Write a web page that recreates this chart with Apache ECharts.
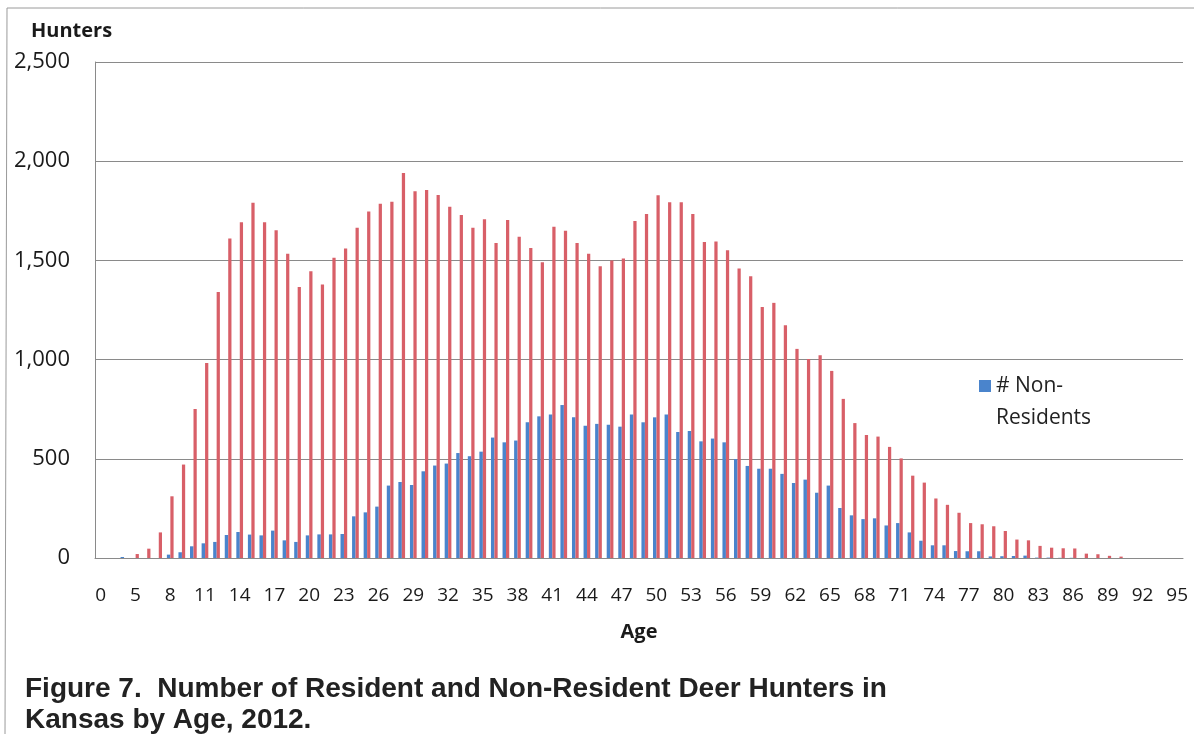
<!DOCTYPE html>
<html>
<head>
<meta charset="utf-8">
<script src="https://cdn.jsdelivr.net/npm/echarts@6/dist/echarts.min.js"></script>
<style>
  html, body { margin: 0; padding: 0; background: #fff; }
  #main { width: 1194px; height: 734px; }
</style>
</head>
<body>
<div id="main"></div>
<script>
// age categories (the first three are shown as 0 then hidden ones)
var ages = ['0', '3', '4', '5', '6', '7', '8', '9', '10', '11', '12', '13', '14', '15', '16', '17', '18', '19',
  '20', '21', '22', '23', '24', '25', '26', '27', '28', '29', '30', '31', '32', '33', '34', '35', '36', '37',
  '38', '39', '40', '41', '42', '43', '44', '45', '46', '47', '48', '49', '50', '51', '52', '53', '54', '55',
  '56', '57', '58', '59', '60', '61', '62', '63', '64', '65', '66', '67', '68', '69', '70', '71', '72', '73',
  '74', '75', '76', '77', '78', '79', '80', '81', '82', '83', '84', '85', '86', '87', '88', '89', '90', '91',
  '92', '93', '94', '95'];

var nonResidents = [0, 0, 5, 0, 0, 0, 17, 29, 59, 74, 81, 116, 131, 118, 114, 138, 89, 81,
  114, 119, 119, 121, 210, 230, 259, 365, 383, 368, 437, 466, 476, 529, 513, 536, 607, 583,
  592, 684, 714, 723, 771, 709, 666, 676, 671, 662, 723, 684, 709, 723, 635, 640, 588, 602,
  583, 499, 464, 450, 450, 424, 378, 395, 329, 365, 252, 215, 196, 200, 164, 176, 129, 87,
  64, 64, 35, 34, 34, 8, 9, 10, 12, 2, 2, 1, 1, 0, 0, 0, 0, 0,
  0, 0, 0, 0];

var residents = [0, 0, 0, 20, 47, 129, 311, 471, 751, 983, 1341, 1610, 1692, 1790, 1692, 1652, 1533, 1366,
  1445, 1378, 1513, 1560, 1664, 1746, 1785, 1795, 1940, 1849, 1855, 1830, 1771, 1729, 1664, 1708, 1588, 1703,
  1619, 1563, 1491, 1669, 1649, 1588, 1533, 1471, 1499, 1509, 1699, 1734, 1829, 1793, 1793, 1734, 1593, 1595,
  1551, 1459, 1420, 1265, 1286, 1173, 1054, 1003, 1022, 943, 802, 680, 620, 612, 560, 502, 415, 380,
  300, 268, 228, 176, 170, 160, 136, 93, 89, 61, 52, 49, 48, 22, 19, 11, 7, 0,
  0, 0, 0, 0];

var dom = document.getElementById('main');
var myChart = echarts.init(dom, null, { renderer: 'canvas' });
var font = '"Open Sans", sans-serif';

var option = {
  animation: false,
  backgroundColor: '#fff',
  textStyle: { fontFamily: font },
  title: [
    {
      text: 'Hunters',
      left: 26,
      top: 16,
      textStyle: { fontFamily: font, fontSize: 20, fontWeight: 'bold', color: '#1a1a1a' }
    },
    {
      text: 'Figure 7.  Number of Resident and Non-Resident Deer Hunters in\nKansas by Age, 2012.',
      left: 20,
      top: 669,
      textStyle: {
        fontFamily: 'Liberation Sans, Arial, sans-serif', fontSize: 28, fontWeight: 'bold',
        color: '#222', lineHeight: 31
      }
    }
  ],
  legend: {
    data: ['# Non-Residents'],
    left: 979,
    top: 338,
    padding: 0,
    icon: 'rect',
    itemWidth: 12,
    itemHeight: 12,
    formatter: function () { return '\n# Non-\nResidents'; },
    textStyle: { fontFamily: font, fontSize: 21, color: '#222', lineHeight: 32 }
  },
  grid: { left: 95, right: 11, top: 62, bottom: 176, containLabel: false },
  xAxis: {
    type: 'category',
    data: ages,
    name: 'Age',
    nameLocation: 'middle',
    nameGap: 64,
    nameTextStyle: { fontFamily: font, fontSize: 20, fontWeight: 'bold', color: '#1a1a1a' },
    axisLine: { lineStyle: { color: '#8a8a8a', width: 1 } },
    axisTick: { show: false },
    axisLabel: { interval: 2, fontSize: 19, color: '#1a1a1a', margin: 28 }
  },
  yAxis: {
    type: 'value',
    min: 0,
    max: 2500,
    interval: 500,
    axisLine: { show: true, lineStyle: { color: '#8a8a8a', width: 1 } },
    axisTick: { show: false },
    splitLine: { lineStyle: { color: '#8a8a8a', width: 1 } },
    axisLabel: {
      fontSize: 22, color: '#1a1a1a', margin: 25,
      formatter: function (v) { return v.toLocaleString('en-US'); }
    }
  },
  series: [
    {
      name: '# Non-Residents',
      type: 'bar',
      data: nonResidents,
      barWidth: '30%',
      barGap: '0%',
      itemStyle: { color: '#4a84cc' }
    },
    {
      name: '# Residents',
      type: 'bar',
      data: residents,
      barWidth: '28%',
      barGap: '0%',
      itemStyle: { color: '#d85f68' }
    }
  ],
  graphic: [
    { type: 'line', shape: { x1: 7, y1: 8, x2: 1194, y2: 8 }, style: { stroke: '#9a9a9a', lineWidth: 1 } },
    { type: 'line', shape: { x1: 7, y1: 8, x2: 5, y2: 734 }, style: { stroke: '#9a9a9a', lineWidth: 1 } }
  ]
};

myChart.setOption(option);
window.addEventListener('resize', myChart.resize);
</script>
</body>
</html>
